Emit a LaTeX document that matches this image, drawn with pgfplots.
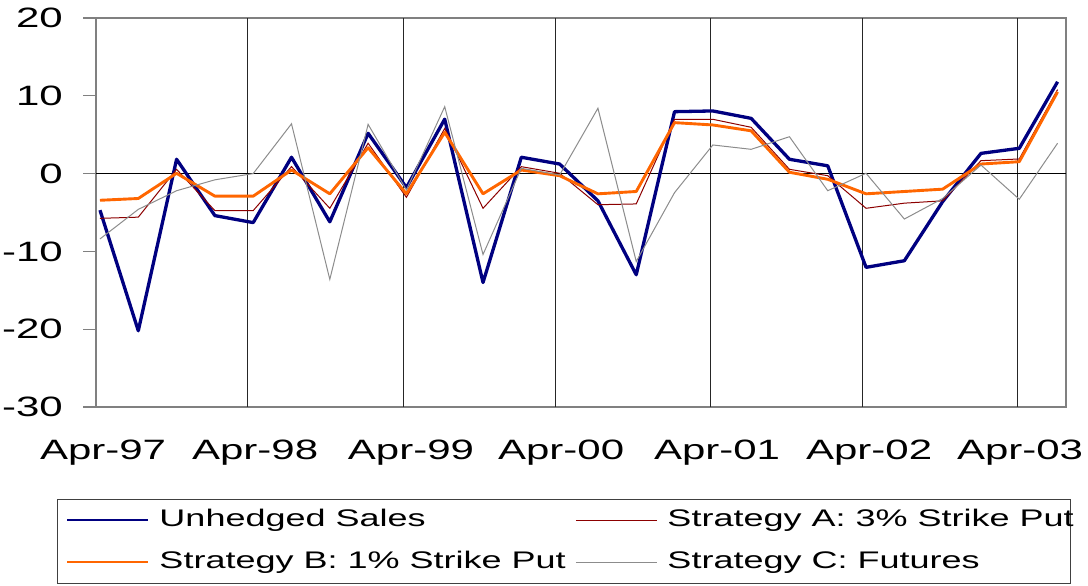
\documentclass[border=0pt]{standalone}
\usepackage{fontspec}
\setmainfont{Liberation Sans}[FakeStretch=1.5]
\usepackage{pgfplots}
\usepackage{pgfplotstable}
\pgfplotsset{compat=1.18}
\definecolor{navyc}{RGB}{0,0,128}
\definecolor{orangec}{RGB}{255,102,0}
\definecolor{redc}{RGB}{140,0,0}
\definecolor{grayc}{RGB}{140,140,140}
\definecolor{framec}{RGB}{128,128,128}

\pgfplotstableread{
k unh a b c
0 -4.7 -5.75 -3.43 -8.4
1 -20.2 -5.6 -3.2 -4.6
2 1.84 0.55 0.04 -2.2
3 -5.4 -4.76 -2.9 -0.8
4 -6.3 -4.76 -2.9 0.0
5 2.1 0.9 0.46 6.4
6 -6.2 -4.46 -2.6 -13.6
7 5.18 3.9 3.33 6.33
8 -1.8 -3.05 -2.6 -2.1
9 7.0 5.8 5.3 8.6
10 -14.0 -4.46 -2.6 -10.4
11 2.1 0.89 0.46 0.68
12 1.23 0.04 -0.27 -0.18
13 -3.5 -4.0 -2.6 8.4
14 -13.0 -3.9 -2.3 -11.3
15 7.96 6.98 6.55 -2.45
16 8.05 6.98 6.25 3.68
17 7.1 5.95 5.5 3.12
18 1.84 0.55 0.17 4.74
19 1.0 -0.27 -0.73 -2.2
20 -12.05 -4.46 -2.6 0.04
21 -11.2 -3.8 -2.3 -5.84
22 -3.6 -3.5 -2.0 -3.2
23 2.6 1.66 1.23 1.1
24 3.25 1.88 1.53 -3.3
25 11.8 10.8 10.5 3.9
}\datatable

\begin{document}
\begin{tikzpicture}
\useasboundingbox (0,0) rectangle (1088pt,586pt);
\begin{axis}[
  at={(96pt,179pt)}, anchor=south west,
  scale only axis, width=970pt, height=389pt,
  xmin=-0.104, xmax=25.22, ymin=-30, ymax=20,
  axis line style={framec, line width=1.5pt},
  ytick={-30,-20,-10,0,10,20},
  yticklabels={-30,-20,-10,0,10,20},
  ytick pos=left,
  tick align=outside,
  major tick length=13pt,
  y tick style={framec, line width=1.2pt},
  xtick={0.08,4.05,8.12,12.04,16.11,20.08,24.02},
  xticklabels={Apr-97,Apr-98,Apr-99,Apr-00,Apr-01,Apr-02,Apr-03},
  x tick style={draw=none},
  extra x ticks={3.84,7.91,11.88,15.93,19.90,23.94},
  extra x tick labels={},
  extra x tick style={grid=major, major grid style={black!85, line width=0.9pt}, tick style={draw=none}},
  extra y ticks={0}, extra y tick labels={},
  extra y tick style={grid=major, major grid style={black, line width=1pt}, tick style={draw=none}},
  tick label style={font=\fontsize{28}{32}\selectfont},
  yticklabel style={anchor=east, inner sep=0pt, xshift=-20pt},
  xticklabel style={anchor=base, inner sep=0pt, yshift=-40pt},
  legend columns=2,
  legend cell align=left,
  legend image code/.code={\draw[#1] (0pt,0pt) -- (81pt,0pt);},
  legend style={at={(-0.0402,-0.2365)}, anchor=north west, draw=black!75, line width=1pt,
    inner xsep=9pt, inner ysep=7.5pt, font=\fontsize{24}{28}\selectfont,
    column sep=10pt, row sep=15pt,
    nodes={inner sep=0pt, text height=20pt, text depth=7pt}},
]
\addplot[navyc, line width=3.3pt, line join=round, legend image post style={line width=2pt}] table[x=k,y=unh] {\datatable};
\addlegendentry{\makebox[406pt][l]{Unhedged Sales}}
\addplot[redc, line width=1pt] table[x=k,y=a] {\datatable};
\addlegendentry{\makebox[394pt][l]{Strategy A: 3\% Strike Put}}
\addplot[orangec, line width=2.9pt, line join=round, legend image post style={line width=2pt}] table[x=k,y=b] {\datatable};
\addlegendentry{\makebox[406pt][l]{Strategy B: 1\% Strike Put}}
\addplot[grayc, line width=1pt] table[x=k,y=c] {\datatable};
\addlegendentry{\makebox[394pt][l]{Strategy C: Futures}}
\end{axis}
\end{tikzpicture}
\end{document}
